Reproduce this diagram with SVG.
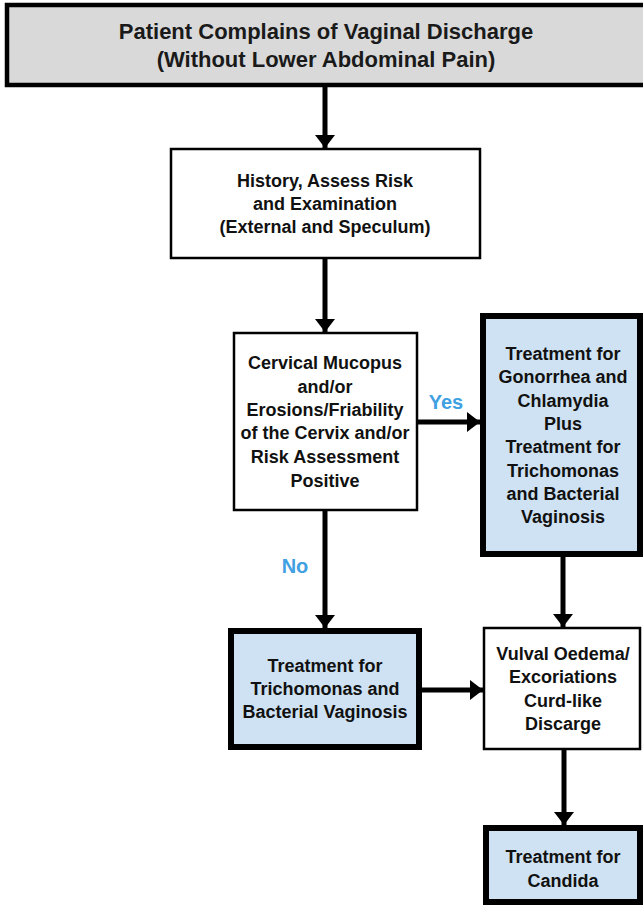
<svg xmlns="http://www.w3.org/2000/svg" width="643" height="907" viewBox="0 0 643 907">
<style>
text{font-family:"Liberation Sans",Arial,sans-serif;font-weight:bold;text-anchor:middle;fill:#111}
.t{font-size:18px}
.title{font-size:22px;fill:#1a1a1a}
.lbl{font-size:20px;fill:#3fa0e2}
.plain{fill:#fff;stroke:#000;stroke-width:2.5}
.tx{fill:#cfe2f3;stroke:#000;stroke-width:6}
.conn{stroke:#000;stroke-width:5;fill:none}
</style>
<defs>
<marker id="ah" markerUnits="userSpaceOnUse" markerWidth="14" markerHeight="22" refX="13" refY="11" orient="auto">
<path d="M0,1 L13,11 L0,21 z" fill="#000"/>
</marker>
</defs>
<rect width="643" height="907" fill="#fff"/>
<g id="start">
<rect x="7" y="5" width="640" height="80" fill="#d9d9d9" stroke="#000" stroke-width="4.5"/>
<text class="title" x="326" y="39">Patient Complains of Vaginal Discharge</text>
<text class="title" x="326" y="67">(Without Lower Abdominal Pain)</text>
</g>
<g id="history">
<rect class="plain" x="171" y="149" width="309" height="109"/>
<text class="t" x="325" y="187">History, Assess Risk</text>
<text class="t" x="325" y="210">and Examination</text>
<text class="t" x="325" y="233">(External and Speculum)</text>
</g>
<g id="cervical">
<rect class="plain" x="234" y="333" width="183" height="177"/>
<text class="t" x="325" y="369">Cervical Mucopus</text>
<text class="t" x="325" y="393">and/or</text>
<text class="t" x="325" y="416">Erosions/Friability</text>
<text class="t" x="325" y="439">of the Cervix and/or</text>
<text class="t" x="325" y="463">Risk Assessment</text>
<text class="t" x="325" y="487">Positive</text>
</g>
<g id="treat-gc">
<rect class="tx" x="483" y="316" width="157" height="238"/>
<text class="t" x="563" y="360">Treatment for</text>
<text class="t" x="563" y="383">Gonorrhea and</text>
<text class="t" x="563" y="407">Chlamydia</text>
<text class="t" x="563" y="430">Plus</text>
<text class="t" x="563" y="453">Treatment for</text>
<text class="t" x="563" y="477">Trichomonas</text>
<text class="t" x="563" y="500">and Bacterial</text>
<text class="t" x="563" y="523">Vaginosis</text>
</g>
<g id="treat-tv">
<rect class="tx" x="231" y="631" width="188" height="116"/>
<text class="t" x="325" y="672">Treatment for</text>
<text class="t" x="325" y="695">Trichomonas and</text>
<text class="t" x="325" y="718">Bacterial Vaginosis</text>
</g>
<g id="vulval">
<rect class="plain" x="484" y="628" width="156" height="121"/>
<text class="t" x="563" y="660">Vulval Oedema/</text>
<text class="t" x="563" y="683">Excoriations</text>
<text class="t" x="563" y="707">Curd-like</text>
<text class="t" x="563" y="730">Discarge</text>
</g>
<g id="candida">
<rect class="tx" x="486" y="828" width="154" height="74"/>
<text class="t" x="563" y="863">Treatment for</text>
<text class="t" x="563" y="887">Candida</text>
</g>
<g id="connectors">
<line class="conn" x1="325" y1="87" x2="325" y2="148" marker-end="url(#ah)"/>
<line class="conn" x1="325" y1="258" x2="325" y2="332" marker-end="url(#ah)"/>
<line class="conn" x1="417" y1="422" x2="480" y2="422" marker-end="url(#ah)"/>
<line class="conn" x1="325" y1="510" x2="325" y2="628" marker-end="url(#ah)"/>
<line class="conn" x1="563" y1="557" x2="563" y2="627" marker-end="url(#ah)"/>
<line class="conn" x1="422" y1="690" x2="483" y2="690" marker-end="url(#ah)"/>
<line class="conn" x1="564" y1="750" x2="564" y2="825" marker-end="url(#ah)"/>
<text class="lbl" x="446" y="409">Yes</text>
<text class="lbl" x="295" y="573">No</text>
</g>
</svg>
